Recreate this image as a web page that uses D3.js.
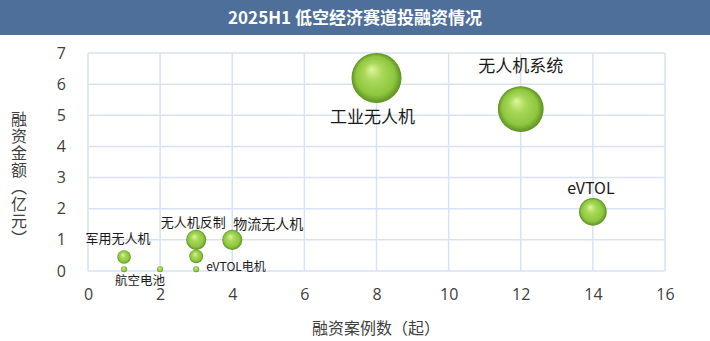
<!DOCTYPE html>
<html>
<head>
<meta charset="utf-8">
<script src="https://cdn.jsdelivr.net/npm/d3@7"></script>
<style>
  body { margin: 0; background: #fff; }
  text { font-family: "Noto Sans CJK SC", "Noto Sans", sans-serif; }
</style>
</head>
<body>
<script>
// data
var names  = ["工业无人机", "无人机系统", "eVTOL", "无人机反制", "物流无人机", "军用无人机", "", "航空电池", "", "eVTOL电机"];
var cases  = [8, 12, 14, 3, 4, 1, 3, 2, 1, 3];
var amount = [6.2, 5.2, 1.9, 1.0, 1.0, 0.45, 0.47, 0.06, 0.06, 0.06];
var xTicks = [0, 2, 4, 6, 8, 10, 12, 14, 16];
var yTicks = [0, 1, 2, 3, 4, 5, 6, 7];

// label placement per point: dx, dy from bubble centre, anchor, font size
var labelPos = [
  [-4, 45, "middle", 17],
  [0, -37, "middle", 17],
  [-2, -18, "middle", 16],
  [-3, -13, "middle", 13],
  [1, -11, "start", 14],
  [-6, -14, "middle", 13],
  [0, 0, "middle", 0],
  [-20, 16, "middle", 12.5],
  [0, 0, "middle", 0],
  [10, 2, "start", 12]
];

var w = 710, h = 341;
var m = { left: 88, right: 45, top: 53, bottom: 70 };

var svg = d3.select("body").append("svg")
    .attr("width", w)
    .attr("height", h);

// title bar
svg.append("rect")
    .attr("x", 0).attr("y", 0)
    .attr("width", w).attr("height", 35)
    .style("fill", "#4e6f99");

svg.append("text")
    .attr("x", w / 2)
    .attr("y", 24)
    .attr("text-anchor", "middle")
    .style("fill", "#fff")
    .style("font-size", "17px")
    .style("font-weight", "bold")
    .text("2025H1 低空经济赛道投融资情况");

var x = d3.scaleLinear().domain([0, 16]).range([m.left, w - m.right]);
var y = d3.scaleLinear().domain([0, 7]).range([h - m.bottom, m.top]);
var r = d3.scaleSqrt().domain([0, 6.2]).range([0, 25]);

// gradient for the 3D spheres
var defs = svg.append("defs");
var grad = defs.append("radialGradient")
    .attr("id", "ball")
    .attr("cx", "50%").attr("cy", "50%").attr("r", "50%")
    .attr("fx", "40%").attr("fy", "32%");
grad.append("stop").attr("offset", "0%").attr("stop-color", "#def79c");
grad.append("stop").attr("offset", "35%").attr("stop-color", "#aad95c");
grad.append("stop").attr("offset", "78%").attr("stop-color", "#8cc63e");
grad.append("stop").attr("offset", "100%").attr("stop-color", "#5e8f22");

// grid
var grid = svg.append("g").attr("class", "grid");
grid.selectAll(".gx")
    .data(xTicks)
    .enter()
    .append("line")
    .attr("x1", function(d){ return x(d); })
    .attr("x2", function(d){ return x(d); })
    .attr("y1", y(0))
    .attr("y2", y(7))
    .style("stroke", "#d9e2f3")
    .style("stroke-width", 1.5);
grid.selectAll(".gy")
    .data(yTicks)
    .enter()
    .append("line")
    .attr("x1", x(0))
    .attr("x2", x(16))
    .attr("y1", function(d){ return y(d); })
    .attr("y2", function(d){ return y(d); })
    .style("stroke", "#d9e2f3")
    .style("stroke-width", 1.5);

// axes (labels only)
var xAxis = svg.append("g")
    .attr("transform", "translate(0," + (y(0) + 14) + ")")
    .call(d3.axisBottom(x).tickValues(xTicks).tickFormat(d3.format("d")).tickSize(0).tickPadding(4));
var yAxis = svg.append("g")
    .attr("transform", "translate(" + (x(0) - 22) + ",0)")
    .call(d3.axisLeft(y).tickValues(yTicks).tickFormat(d3.format("d")).tickSize(0).tickPadding(0));
[xAxis, yAxis].forEach(function(a){
  a.select(".domain").remove();
  a.selectAll("text")
      .style("font-size", "16px")
      .style("fill", "#404040")
      .style("font-family", "'Open Sans', 'Noto Sans', sans-serif");
});

// axis titles
svg.append("text")
    .attr("x", 376)
    .attr("y", 334)
    .attr("text-anchor", "middle")
    .style("font-size", "16px")
    .style("fill", "#404040")
    .text("融资案例数（起）");

svg.append("text")
    .attr("x", 19)
    .attr("y", 111)
    .style("writing-mode", "vertical-rl")
    .style("text-orientation", "upright")
    .style("letter-spacing", "1px")
    .style("font-size", "16px")
    .style("fill", "#404040")
    .text("融资金额（亿元）");

// bubbles
var pts = cases.map(function(c, i){
  return { name: names[i], x: c, y: amount[i], lp: labelPos[i] };
});

svg.selectAll(".bubble")
    .data(pts)
    .enter()
    .append("circle")
    .attr("class", "bubble")
    .attr("cx", function(d){ return x(d.x); })
    .attr("cy", function(d){ return y(d.y); })
    .attr("r", function(d){ return Math.max(r(d.y), 3); })
    .style("fill", "url(#ball)");

// labels
svg.selectAll(".lbl")
    .data(pts.filter(function(d){ return d.name; }))
    .enter()
    .append("text")
    .attr("class", "lbl")
    .attr("x", function(d){ return x(d.x) + d.lp[0]; })
    .attr("y", function(d){ return y(d.y) + d.lp[1]; })
    .attr("text-anchor", function(d){ return d.lp[2]; })
    .style("font-size", function(d){ return d.lp[3] + "px"; })
    .style("fill", "#1a1a1a")
    .text(function(d){ return d.name; });
</script>
</body>
</html>
